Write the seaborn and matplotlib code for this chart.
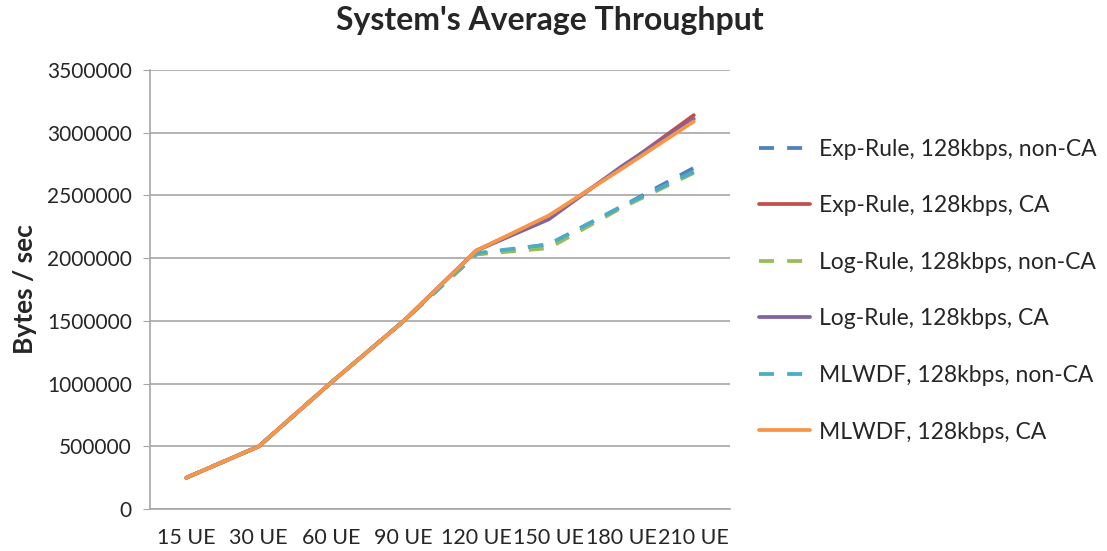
import pandas as pd
import seaborn as sns
import matplotlib.pyplot as plt

# dane
kategorie = ['15 UE', '30 UE', '60 UE', '90 UE', '120 UE', '150 UE', '180 UE', '210 UE']

exp_non_ca = [250000, 500000, 1010000, 1500000, 2030000, 2110000, 2410000, 2720000]
exp_ca = [250000, 500000, 1010000, 1500000, 2060000, 2330000, 2720000, 3140000]
log_non_ca = [250000, 500000, 1010000, 1500000, 2030000, 2080000, 2400000, 2680000]
log_ca = [250000, 500000, 1010000, 1500000, 2060000, 2310000, 2730000, 3110000]
mlwdf_non_ca = [250000, 500000, 1010000, 1500000, 2040000, 2110000, 2410000, 2690000]
mlwdf_ca = [250000, 500000, 1010000, 1500000, 2060000, 2340000, 2710000, 3090000]

serie = {
    'Exp-Rule, 128kbps, non-CA': exp_non_ca,
    'Exp-Rule, 128kbps, CA': exp_ca,
    'Log-Rule, 128kbps, non-CA': log_non_ca,
    'Log-Rule, 128kbps, CA': log_ca,
    'MLWDF, 128kbps, non-CA': mlwdf_non_ca,
    'MLWDF, 128kbps, CA': mlwdf_ca,
}

kolory = ['#4F81BD', '#C0504D', '#9BBB59', '#8064A2', '#4BACC6', '#F79646']

wiersze = []
for nazwa, wartosci in serie.items():
    for k, v in zip(kategorie, wartosci):
        wiersze.append({'UE': k, 'throughput': v, 'seria': nazwa})
df = pd.DataFrame(wiersze)

nazwy = list(serie.keys())
paleta = dict(zip(nazwy, kolory))
kreski = {n: ((4, 3.5) if 'non-CA' in n else '') for n in nazwy}

sns.set_style('white')
plt.rcParams['font.family'] = ['Lato', 'DejaVu Sans']

fig = plt.figure(figsize=(11.07, 5.51), dpi=100)
ax = fig.add_axes([0.1355, 0.076, 0.524, 0.797])

sns.lineplot(data=df, x='UE', y='throughput', hue='seria', style='seria',
             palette=paleta, dashes=kreski, hue_order=nazwy, style_order=nazwy,
             linewidth=2.7, sort=False, ax=ax)

ax.set_ylim(0, 3500000)
ax.set_xlim(-0.5, len(kategorie) - 0.5)
ax.set_yticks(range(0, 3500001, 500000))
ax.set_yticklabels([str(v) for v in range(0, 3500001, 500000)])
ax.yaxis.grid(True, color='#A6A6A6', linewidth=1.2)
ax.set_axisbelow(True)
for s in ['top', 'right']:
    ax.spines[s].set_visible(False)
for s in ['left', 'bottom']:
    ax.spines[s].set_color('#A6A6A6')
    ax.spines[s].set_linewidth(1.2)
ax.tick_params(axis='y', left=True, length=5, color='#A6A6A6', labelsize=15, pad=8)
ax.tick_params(axis='x', bottom=False, labelsize=15.5, pad=10)

ax.set_xlabel('')
ax.set_ylabel('Bytes / sec', fontsize=19, fontweight='bold', labelpad=7)
fig.suptitle("System's Average Throughput", fontsize=23, fontweight='bold', x=0.497, y=0.99)

uchwyty, etykiety = ax.get_legend_handles_labels()
ax.legend(uchwyty, etykiety, loc='upper left', bbox_to_anchor=(1.015, 0.89),
          frameon=False, fontsize=16.5, labelspacing=1.55, handlelength=2.2,
          handletextpad=0.4)

fig.savefig('out.png', dpi=100)
